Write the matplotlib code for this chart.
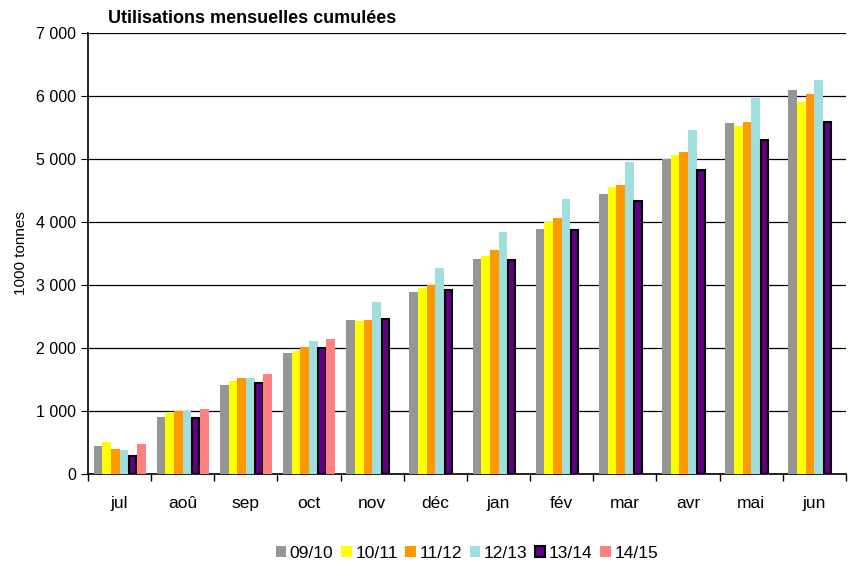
import numpy as np
import matplotlib.pyplot as plt
from matplotlib.ticker import FuncFormatter

plt.rcParams['font.family'] = ['Liberation Sans', 'DejaVu Sans']

months = ['jul', 'aoû', 'sep', 'oct', 'nov', 'déc', 'jan', 'fév', 'mar', 'avr', 'mai', 'jun']
seasons = ['09/10', '10/11', '11/12', '12/13', '13/14', '14/15']

s0910 = [444, 905, 1413, 1921, 2444, 2889, 3413, 3889, 4444, 5005, 5571, 6095]
s1011 = [508, 968, 1476, 1952, 2429, 2952, 3460, 4000, 4556, 5063, 5524, 5905]
s1112 = [397, 995, 1524, 2016, 2444, 3000, 3556, 4063, 4587, 5111, 5587, 6032]
s1213 = [381, 995, 1524, 2111, 2730, 3270, 3841, 4365, 4952, 5460, 5968, 6254]
s1314 = [286, 884, 1439, 1995, 2455, 2926, 3392, 3868, 4328, 4820, 5297, 5582]
s1415 = [476, 1032, 1587, 2143]

series = [s0910, s1011, s1112, s1213, s1314, s1415]
colors = ['#969696', '#FFFF00', '#FF9900', '#A1DFDF', '#600080', '#FF8080']

fig = plt.figure(figsize=(8.54, 5.66), dpi=100)
ax = fig.add_axes([0.103, 0.1625, 0.8876, 0.7792])

x = np.arange(len(months))
w = 0.137
for i, (vals, c) in enumerate(zip(series, colors)):
    pos = x[:len(vals)] + (i - 2.5) * w
    if seasons[i] == '13/14':
        ax.bar(pos, vals, w * 0.85, color=c, edgecolor='black', linewidth=1.5,
               label=seasons[i], zorder=3)
    else:
        ax.bar(pos, vals, w, color=c, linewidth=0, label=seasons[i], zorder=3)

ax.set_xlim(-0.5, len(months) - 0.5)
ax.set_ylim(0, 7000)
ax.set_yticks(np.arange(0, 7001, 1000))
ax.yaxis.set_major_formatter(FuncFormatter(lambda v, p: f'{int(v):,}'.replace(',', ' ')))
ax.set_xticks(x)
ax.set_xticklabels(months)
ax.set_xticks(np.arange(len(months) + 1) - 0.5, minor=True)
ax.tick_params(axis='x', which='major', length=0, pad=16, labelsize=12.5)
ax.tick_params(axis='x', which='minor', length=5, width=1)
ax.tick_params(axis='y', length=5, labelsize=11.5)
ax.grid(axis='y', color='black', linewidth=0.9, zorder=0)
ax.spines['top'].set_visible(False)
ax.spines['right'].set_visible(False)
ax.spines['left'].set_linewidth(1.2)
ax.spines['bottom'].set_linewidth(1.2)
ax.set_ylabel('1000 tonnes', fontsize=11, labelpad=6)

fig.text(0.126, 0.968, 'Utilisations mensuelles cumulées', fontsize=13, fontweight='bold',
         va='center')

ax.legend(loc='center', bbox_to_anchor=(0.5, -0.18), ncol=6, frameon=False,
          fontsize=12.5, handlelength=0.6, handleheight=0.6, handletextpad=0.2,
          columnspacing=0.45)

fig.savefig('out.png', dpi=100)
